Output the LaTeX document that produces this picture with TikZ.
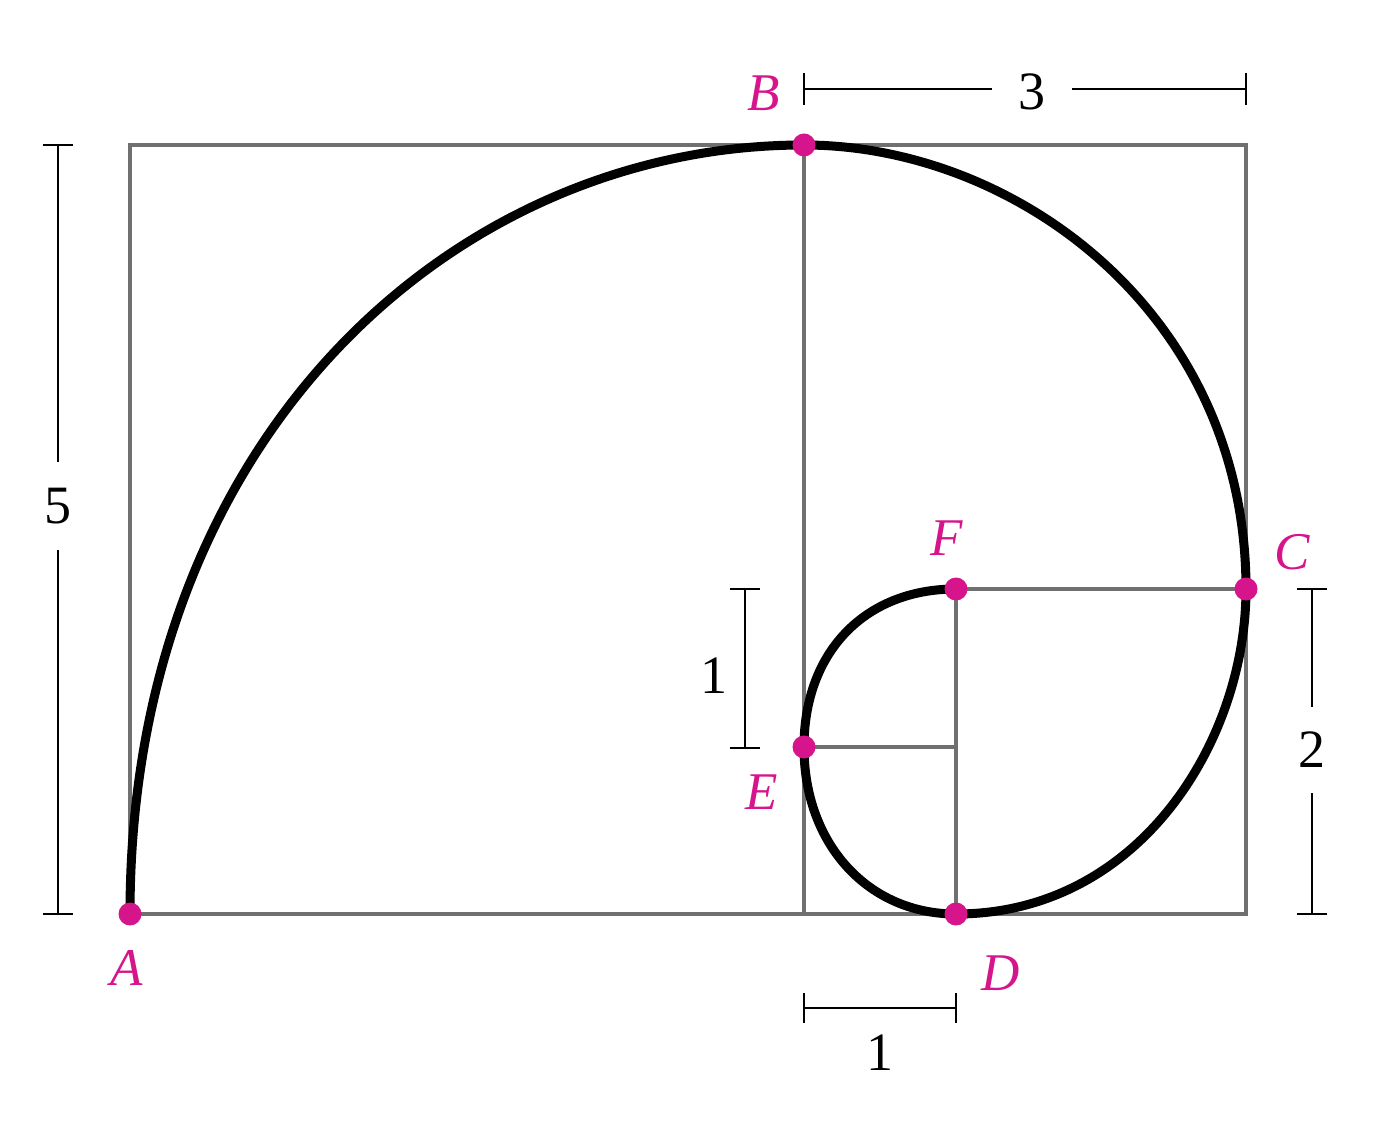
\documentclass[tikz,border=0pt]{standalone}
\usepackage{fontspec}
\setmainfont{Liberation Serif}
\definecolor{pinkpt}{RGB}{214,20,140}
\definecolor{gridgray}{RGB}{112,112,112}
\begin{document}
\begin{tikzpicture}[x=0.5pt,y=-0.5pt,
  grid/.style={draw=gridgray,line width=2.2pt},
  spiral/.style={draw=black,line width=4.5pt},
  dim/.style={draw=black,line width=0.9pt},
  dot/.style={circle,fill=pinkpt,inner sep=0pt,minimum size=11.5pt},
  ptlabel/.style={text=pinkpt,font=\fontsize{26.5}{30}\selectfont\itshape,inner sep=0pt},
  numlabel/.style={font=\fontsize{27}{30}\selectfont,inner sep=0pt}]
\useasboundingbox (0,0) rectangle (1382,1138);
\fill[white] (0,0) rectangle (1382,1138);
% points
\coordinate (A) at (130,914);
\coordinate (B) at (804,145);
\coordinate (C) at (1246,589);
\coordinate (D) at (956,914);
\coordinate (E) at (804,747);
\coordinate (F) at (956,589);
\coordinate (TL) at (130,145);
\coordinate (BR) at (1246,914);
\coordinate (BM) at (804,914);
\coordinate (EF) at (956,747);
% grid
\draw[grid] (TL) rectangle (BR);
\draw[grid] (B) -- (BM);
\draw[grid] (F) -- (C);
\draw[grid] (E) -- (F -| E);
\draw[grid] (F) -- (D);
\draw[grid] (E) -- (EF);
% spiral
\draw[spiral] (A)
  .. controls (130,437) and (454,145) .. (B)
  .. controls (1016,145) and (1246,314) .. (C)
  .. controls (1246,740) and (1140,914) .. (D)
  .. controls (868,914) and (804,844) .. (E)
  .. controls (804,652) and (865,589) .. (F);
% dots
\foreach \p in {A,B,C,D,E,F} \node[dot] (dot\p) at (\p) {};
% point labels
\node[ptlabel] (lA) at (127,968) {A};
\node[ptlabel] (lB) at (764,93) {B};
\node[ptlabel] (lC) at (1292,552) {C};
\node[ptlabel] (lD) at (1001,973) {D};
\node[ptlabel] (lE) at (762,792) {E};
\node[ptlabel] (lF) at (947,538) {F};
% dimension: 3 (top)
\coordinate (t1) at (804,89);
\coordinate (t2) at (1246,89);
\node[numlabel,inner xsep=13pt] (n3) at (1032,92) {3};
\draw[dim] (t1) -- (n3.west |- t1);
\draw[dim] (n3.east |- t2) -- (t2);
\draw[dim] (t1) +(0,-16) -- +(0,16);
\draw[dim] (t2) +(0,-16) -- +(0,16);
% dimension: 5 (left)
\coordinate (l1) at (58,145);
\coordinate (l2) at (58,914);
\node[numlabel,inner ysep=13pt] (n5) at (58,506) {5};
\draw[dim] (l1) -- (n5.north -| l1);
\draw[dim] (n5.south -| l2) -- (l2);
\draw[dim] (l1) +(-15,0) -- +(15,0);
\draw[dim] (l2) +(-15,0) -- +(15,0);
% dimension: 2 (right)
\coordinate (r1) at (1312,589);
\coordinate (r2) at (1312,914);
\node[numlabel,inner ysep=12.5pt] (n2) at (1312,750) {2};
\draw[dim] (r1) -- (n2.north -| r1);
\draw[dim] (n2.south -| r2) -- (r2);
\draw[dim] (r1) +(-15,0) -- +(15,0);
\draw[dim] (r2) +(-15,0) -- +(15,0);
% dimension: 1 (inner vertical)
\coordinate (v1) at (745,589);
\coordinate (v2) at (745,748);
\draw[dim] (v1) -- (v2);
\draw[dim] (v1) +(-15,0) -- +(15,0);
\draw[dim] (v2) +(-15,0) -- +(15,0);
\node[numlabel] (n1v) at (714,676) {1};
% dimension: 1 (bottom)
\coordinate (h1) at (804,1008);
\coordinate (h2) at (956,1008);
\draw[dim] (h1) -- (h2);
\draw[dim] (h1) +(0,-15) -- +(0,15);
\draw[dim] (h2) +(0,-15) -- +(0,15);
\node[numlabel] (n1h) at (880,1053) {1};
\end{tikzpicture}
\end{document}
